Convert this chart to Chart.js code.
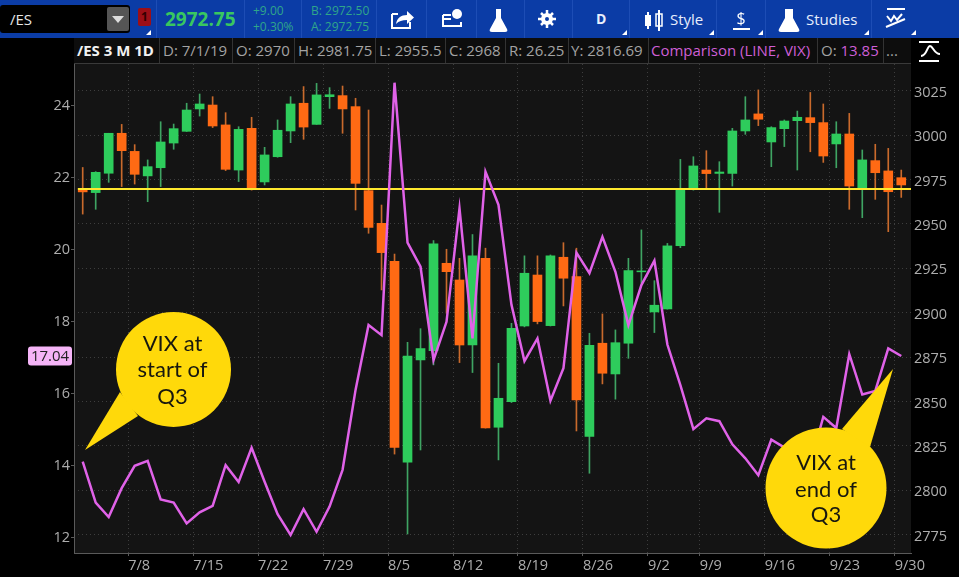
<!DOCTYPE html>
<html>
<head>
<meta charset="utf-8">
<title>/ES vs VIX Q3 2019</title>
<script src="https://cdn.jsdelivr.net/npm/chart.js@4/dist/chart.umd.min.js"></script>
<style>
  html, body { margin: 0; padding: 0; background: #000; overflow: hidden; }
  #wrap { position: relative; width: 959px; height: 577px; font-family: "Open Sans", sans-serif; }
  #myChart { position: absolute; left: 0; top: 0; }
  #toolbar { position: absolute; left: 0; top: 0; width: 959px; height: 38px; background: #0b3ca6; }
  #header { position: absolute; left: 74px; top: 38px; width: 837px; height: 25px; background: #0d0d0d; border-bottom: 1px solid #3a3a3a; }
  .abs { position: absolute; white-space: nowrap; }
  .hd { position: absolute; top: 3px; font-size: 15px; line-height: 19px; color: #a3a3a3; white-space: nowrap; }
  .sep { position: absolute; top: 0; width: 1px; height: 25px; background: #333; }
  .vsep { position: absolute; top: 0; width: 1px; height: 38px; background: #1d4db5; }
  .tool { position: absolute; color: #e8eefc; font-size: 15px; line-height: 20px; top: 9px; white-space: nowrap; }
  svg.over { position: absolute; left: 0; top: 0; pointer-events: none; }
</style>
</head>
<body>
<div id="wrap">
  <canvas id="myChart" width="959" height="577"></canvas>

  <div id="toolbar">
    <div class="abs" style="left:0;top:5px;width:130px;height:28px;background:#000;border-radius:3px"></div>
    <div class="abs" style="left:10px;top:9px;color:#e6e6e6;font-size:15px;line-height:20px">/ES</div>
    <div class="abs" style="left:107px;top:7px;width:22px;height:24px;background:#555;border-radius:2px"></div>
    <div class="abs" style="left:138px;top:8px;width:13px;height:18px;background:#9c0f17;border-radius:2px;color:#300;font-size:12px;line-height:18px;text-align:center;font-weight:700">1</div>
    <div class="abs" style="left:165px;top:7px;color:#39c660;font-size:19px;line-height:24px;font-weight:700">2972.75</div>
    <div class="abs" style="left:253px;top:3px;color:#2fa68a;font-size:12px;line-height:16px">+9.00</div>
    <div class="abs" style="left:253px;top:19px;color:#2fa68a;font-size:12px;line-height:16px">+0.30%</div>
    <div class="abs" style="left:311px;top:3px;color:#2fa68a;font-size:12px;line-height:16px">B: 2972.50</div>
    <div class="abs" style="left:311px;top:19px;color:#2fa68a;font-size:12px;line-height:16px">A: 2972.75</div>
    <div class="vsep" style="left:156px"></div><div class="vsep" style="left:244px"></div>
    <div class="vsep" style="left:301px"></div><div class="vsep" style="left:376px"></div>
    <div class="vsep" style="left:426px"></div><div class="vsep" style="left:476px"></div>
    <div class="vsep" style="left:524px"></div><div class="vsep" style="left:572px"></div>
    <div class="vsep" style="left:629px"></div><div class="vsep" style="left:716px"></div>
    <div class="vsep" style="left:765px"></div><div class="vsep" style="left:871px"></div>
    <div class="tool" style="left:596px;font-weight:700;font-size:14px">D</div>
    <div class="tool" style="left:670px">Style</div>
    <div class="tool" style="left:806px">Studies</div>
  </div>

  <div id="header">
    <div class="hd" style="left:3px;color:#f2f2f2;font-weight:700">/ES 3 M 1D</div>
    <div class="sep" style="left:85px"></div>
    <div class="hd" style="left:89px">D: 7/1/19</div>
    <div class="sep" style="left:158px"></div>
    <div class="hd" style="left:162px">O: 2970</div>
    <div class="sep" style="left:220px"></div>
    <div class="hd" style="left:224px">H: 2981.75</div>
    <div class="sep" style="left:301px"></div>
    <div class="hd" style="left:305px">L: 2955.5</div>
    <div class="sep" style="left:371px"></div>
    <div class="hd" style="left:375px">C: 2968</div>
    <div class="sep" style="left:431px"></div>
    <div class="hd" style="left:435px">R: 26.25</div>
    <div class="sep" style="left:494px"></div>
    <div class="hd" style="left:497px">Y: 2816.69</div>
    <div class="sep" style="left:574px"></div>
    <div class="hd" style="left:577px;color:#cf5fd6">Comparison (LINE, VIX)</div>
    <div class="sep" style="left:743px"></div>
    <div class="hd" style="left:747px">O: <span style="color:#cf5fd6">13.85</span></div>
    <div class="sep" style="left:809px"></div>
    <div class="hd" style="left:812px">...</div>
  </div>

  <!-- toolbar icons, callouts -->
  <svg class="over" width="959" height="577" viewBox="0 0 959 577">
    <polygon points="112,16 124,16 118,23" fill="#ddd"/>
    <g fill="none" stroke="#fff" stroke-width="2">
      <path d="M392 14h6M392 14v14h18v-6"/>
      <path d="M443 15h8M443 15v11h18v-4M443 19h8"/>
    </g>
    <path d="M396 24c1-6 5-9 11-9v-4l7 6.500-7 6.500v-4c-5 0-8 1-11 4z" fill="#fff"/>
    <circle cx="457" cy="14" r="5" fill="#fff"/>
    <path d="M494 9h9M496 9v9l-6 11c-1 2 0 3 2 3h13c2 0 3-1 2-3l-6-11v-9z" fill="#fff"/>
    <circle cx="547" cy="19" r="4" fill="none" stroke="#fff" stroke-width="4"/>
    <g stroke="#fff" stroke-width="2.500">
      <path d="M547 10v4M547 24v4M538 19h4M552 19h4M541 13l3 3M550 22l3 3M553 13l-3 3M544 22l-3 3"/>
    </g>
    <g fill="#fff">
      <rect x="645" y="15" width="6" height="11"/><rect x="647" y="12" width="2" height="17"/>
      <rect x="658" y="10" width="2" height="21"/>
    </g>
    <rect x="656" y="14" width="6" height="12" fill="none" stroke="#fff" stroke-width="1.500"/>
    <text x="741" y="24" text-anchor="middle" font-family="Open Sans" font-size="16" fill="#fff">$</text>
    <rect x="733" y="28" width="17" height="2" fill="#fff"/>
    <path d="M783 9h12M785 9v9l-6 11c-1 2 0 3 2 3h16c2 0 3-1 2-3l-6-11v-9z" fill="#fff"/>
    <g fill="none" stroke="#fff" stroke-width="2">
      <path d="M887 9h18M887 16l4 5 3-5 3 4 5-6M886 27l19-8"/>
      <path d="M919 42h20M919 61h20M921 56c6 0 6-10 9-10s4 8 10 8"/>
    </g>
    <g fill="#fff">
      <polygon points="151,30 151,35 146,35"/><polygon points="627,30 627,35 622,35"/>
      <polygon points="714,30 714,35 709,35"/><polygon points="763,30 763,35 758,35"/>
      <polygon points="869,30 869,35 864,35"/><polygon points="916,30 916,35 911,35"/>
    </g>

    <g fill="#ffd90a">
      <circle cx="173.500" cy="369.500" r="57.500"/>
      <polygon points="85,450 120,392 138,416"/>
      <circle cx="826" cy="488" r="60.500"/>
      <polygon points="893,369 842,429 870,447"/>
    </g>
    <g font-family="Lato" font-size="22" fill="#17170f" text-anchor="middle">
      <text x="172.500" y="351">VIX at</text>
      <text x="172.500" y="377">start of</text>
      <text x="172.500" y="404">Q3</text>
      <text x="826" y="470">VIX at</text>
      <text x="826" y="497">end of</text>
      <text x="826" y="522">Q3</text>
    </g>
  </svg>
</div>

<script>
// 取引日 (2019 Q3)
const dates = [
  '7/1','7/2','7/3','7/5','7/8','7/9','7/10','7/11','7/12','7/15','7/16','7/17','7/18','7/19',
  '7/22','7/23','7/24','7/25','7/26','7/29','7/30','7/31','8/1','8/2','8/5','8/6','8/7','8/8','8/9',
  '8/12','8/13','8/14','8/15','8/16','8/19','8/20','8/21','8/22','8/23','8/26','8/27','8/28','8/29','8/30',
  '9/3','9/4','9/5','9/6','9/9','9/10','9/11','9/12','9/13','9/16','9/17','9/18','9/19','9/20',
  '9/23','9/24','9/25','9/26','9/27','9/30'
];
// x 軸の目盛り (週初めの足の左端)
const tickDates = ['7/8','7/15','7/22','7/29','8/5','8/12','8/19','8/26','9/3','9/9','9/16','9/23','9/30'];
const tickLabels = ['7/8','7/15','7/22','7/29','8/5','8/12','8/19','8/26','9/2','9/9','9/16','9/23','9/30'];
const esTicks = [2775,2800,2825,2850,2875,2900,2925,2950,2975,3000,3025];
const vixTicks = [12,14,16,18,20,22,24];

// /ES OHLC
const esOpen = [2970,2967.6,2978.5,3001,2990.8,2977,2981.6,2995.5,3002.1,3014.7,3016.9,3005.7,2980.3,3003.8,
  2973.6,2987.8,3002.3,3017.9,3006,3021.6,3022.2,3016,2968.7,2950.3,2928.9,2815.8,2873.4,2878.6,2927.8,
  2918.4,2881.8,2930.6,2835.5,2849.9,2892.5,2921.2,2892.7,2931.2,2920.3,2830.4,2882.8,2865.5,2882.8,2923,
  2900.4,2902.1,2937.7,2970,2980.3,2978.4,2978.4,3002.3,3011.9,2996.1,3003.6,3008.1,3009.8,3007,
  2995,3000.6,2970,2985.6,2979.8,2976];
const esHigh = [2981.75,2979.4,3001,3006,2994.6,2986,3007.5,3006.2,3017.9,3023.1,3021.6,3012.6,3004.7,3010,
  2993.1,3008.5,3021.6,3027.3,3029.1,3026.7,3027.6,3020.7,3014.1,2960.6,2933,2883.3,2891,2940.6,2935.7,
  2930.6,2944,2936.3,2871.5,2894,2932,2932,2932.5,2939.4,2936.3,2888.4,2899.3,2890.3,2930.6,2946.6,
  2918,2939,2986.3,2987.8,2991.2,2985,3003.8,3021.6,3025.4,3004.7,3008.5,3013.5,3024,3017.5,
  3007.5,3012.2,2991.6,2994.8,2992.5,2980.3];
const esLow = [2955.5,2958.2,2973.4,2971,2972.4,2962.5,2971,2992,3002,3010.7,3004.2,2980,2973.8,2969,
  2971.9,2987.5,2995.7,2997.6,3006,3015,3001,2957.8,2944.7,2912.8,2820.4,2775.4,2822.7,2870.6,2899.7,
  2871.9,2866.3,2835,2817.1,2849.4,2892,2893.7,2892.5,2903.8,2833.4,2809.6,2859.9,2851.3,2874.3,2916.5,
  2888.8,2902,2936.6,2969,2970,2956.5,2971.3,3000.4,3005.3,2982.2,2993.5,2980.3,2990.6,2984.6,
  2981.6,2958.2,2953.5,2963.8,2945.6,2964.9];
const esClose = [2968,2979,3001,2991.2,2977.9,2982.2,2996.1,3003.6,3014.1,3017.5,3005.1,2980.7,3003.2,2969.6,
  2988.8,3002.7,3017.5,3004.5,3022.6,3022.7,3014.7,2972.8,2948,2933.8,2824.2,2875.6,2879.8,2938.7,2923.1,
  2881.8,2932,2835.1,2851.8,2891.2,2922.2,2895,2932,2919.4,2850.9,2881.6,2865.9,2883.1,2923.7,2923.5,
  2904.2,2937.6,2970,2982.6,2978.3,2979.2,3002.3,3008.5,3008.9,3004.2,3007.9,3010,3007,2988.2,
  3000.6,2971.3,2986,2978.8,2968.1,2971.9];

// VIX (Comparison)
const vixClose = [14.11,12.97,12.57,13.37,13.99,14.13,13.06,12.97,12.39,12.7,12.88,14.01,13.54,14.49,
  13.55,12.65,12.07,12.79,12.16,12.86,13.88,16.1,17.9,17.62,24.63,20.19,19.52,16.93,17.99,
  21.14,17.53,22.16,21.24,18.46,16.9,17.53,15.8,16.7,19.91,19.34,20.35,19.38,17.9,19.01,
  19.69,17.36,16.23,15.01,15.31,15.23,14.59,14.2,13.73,14.72,14.5,13.95,14.05,
  15.35,15.04,17.09,15.97,16.07,17.25,17.04];

const supportLevel = [2969.6];
const lastVix = vixClose[vixClose.length - 1];

const upColor = '#2ecc5c', downColor = '#ff6a14';
const upWick = '#3fa463', downWick = '#c96a2c';

const isUp = esOpen.map((o, i) => esClose[i] >= o);

// プロット背景と VIX の現在値ラベル
const panelPlugin = {
  id: 'panel',
  beforeDraw(chart) {
    const a = chart.chartArea, c = chart.ctx;
    c.save();
    c.fillStyle = '#141414';
    c.fillRect(a.left, a.top, a.right - a.left, a.bottom - a.top);
    c.restore();
  },
  afterDraw(chart) {
    const c = chart.ctx, y = chart.scales.vix.getPixelForValue(lastVix);
    c.save();
    c.fillStyle = '#f5b4f7';
    c.beginPath();
    c.roundRect(28, y - 9.5, 44, 19, 3);
    c.fill();
    c.fillStyle = '#222';
    c.font = '15px "Open Sans"';
    c.textAlign = 'center';
    c.textBaseline = 'middle';
    c.fillText(lastVix.toFixed(2), 50, y + 0.5);
    c.restore();
  }
};

const gridColor = '#3e3e3e';
const ctx = document.getElementById('myChart').getContext('2d');
Chart.defaults.font.family = '"Open Sans", sans-serif';
Chart.defaults.font.size = 14.5;
Chart.defaults.color = '#adadad';

new Chart(ctx, {
  type: 'bar',
  data: {
    datasets: [
      {
        type: 'line',
        label: 'VIX',
        yAxisID: 'vix',
        order: 0,
        data: vixClose.map((v, i) => ({ x: i, y: v })),
        borderColor: '#e062e8',
        borderWidth: 2.5,
        pointRadius: 0,
        tension: 0
      },
      {
        type: 'line',
        label: 'level',
        yAxisID: 'es',
        order: 1,
        data: [{ x: -0.37, y: supportLevel[0] }, { x: 63.75, y: supportLevel[0] }],
        borderColor: '#ffe92e',
        borderWidth: 2,
        pointRadius: 0
      },
      {
        label: 'body',
        yAxisID: 'es',
        order: 2,
        grouped: false,
        barThickness: 9,
        data: esOpen.map((o, i) => ({ x: i, y: [Math.min(o, esClose[i]), Math.max(o, esClose[i])] })),
        backgroundColor: isUp.map(u => u ? upColor : downColor)
      },
      {
        label: 'wick',
        yAxisID: 'es',
        order: 3,
        grouped: false,
        barThickness: 1,
        data: esHigh.map((h, i) => ({ x: i, y: [esLow[i], h] })),
        backgroundColor: isUp.map(u => u ? upWick : downWick)
      }
    ]
  },
  options: {
    responsive: false,
    animation: false,
    layout: { padding: { top: 64, left: 0, right: 0, bottom: 0 } },
    plugins: { legend: { display: false }, tooltip: { enabled: false } },
    scales: {
      x: {
        type: 'linear',
        offset: false,
        min: -0.67,
        max: 63.75,
        afterFit(s) { s.height = 24; },
        afterBuildTicks(s) {
          s.ticks = tickDates.map(d => ({ value: dates.indexOf(d) - 0.5 }));
        },
        border: { display: true, color: '#5a5a5a', dash: [1, 3] },
        grid: { offset: false, color: gridColor, tickColor: '#5a5a5a', tickLength: 3, tickBorderDash: [] },
        ticks: {
          autoSkip: false,
          maxRotation: 0,
          align: 'start',
          padding: 1,
          callback: (v) => tickLabels[tickDates.findIndex(d => dates.indexOf(d) - 0.5 === v)]
        }
      },
      vix: {
        position: 'left',
        min: 11.57,
        max: 25.15,
        afterFit(s) { s.width = 74; },
        afterBuildTicks(s) { s.ticks = vixTicks.map(v => ({ value: v })); },
        border: { display: true, color: '#5a5a5a' },
        grid: { drawOnChartArea: false, tickColor: '#5a5a5a', tickLength: 3 },
        ticks: { padding: 1, callback: (v) => String(v) }
      },
      es: {
        position: 'right',
        min: 2764.7,
        max: 3040,
        afterFit(s) { s.width = 48; },
        afterBuildTicks(s) { s.ticks = esTicks.map(v => ({ value: v })); },
        border: { display: false, dash: [1, 3] },
        grid: { color: gridColor, drawTicks: false },
        ticks: { padding: 3, labelOffset: 2, callback: (v) => String(v) }
      }
    }
  },
  plugins: [panelPlugin]
});
</script>
</body>
</html>
